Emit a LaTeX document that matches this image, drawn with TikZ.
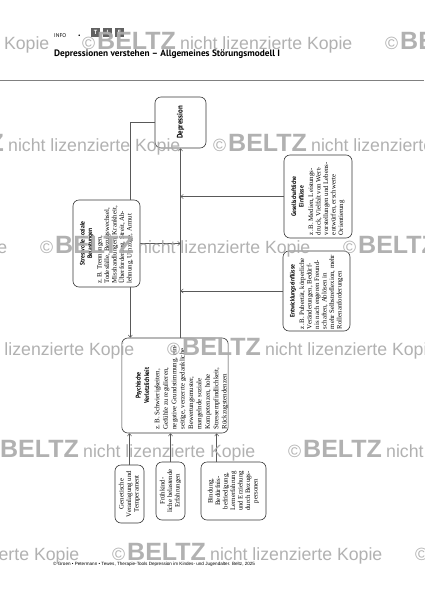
\documentclass[tikz,border=0pt]{standalone}
\usepackage{fontspec}
\setmainfont{Liberation Serif}
\newfontfamily\hdfont{PT Sans}
\newfontfamily\wmfont{Liberation Sans}
\newfontfamily\ttlfont{PT Sans}[FakeStretch=0.86]
\usetikzlibrary{arrows.meta}
\newcommand\bodyf{\normalfont\fontsize{6.8}{7.5}\selectfont}
\newcommand\ttlf{\ttlfont\bfseries\fontsize{6.5}{7.6}\selectfont}
\newcommand\rtext[2]{\rotatebox{90}{\begin{minipage}{#1}#2\end{minipage}}}
\newcommand\wmrow[2]{%
  \foreach \k in {-1,0,1}{%
    \node[wmtext,anchor=base west] at ({#1+303*\k},#2) {©};
    \node[wmlogo,anchor=base west] at ({#1+303*\k+15},#2) {BELTZ};
    \node[wmtext,anchor=base west] at ({#1+303*\k+98},#2) {nicht lizenzierte Kopie};
  }}
\begin{document}
\begin{tikzpicture}[x=1pt,y=-1pt,
  box/.style={draw=black!78,line width=0.6pt,rounded corners=6pt,inner sep=0pt,fill=white},
  arr/.style={draw=black!65,line width=0.5pt,-{Straight Barb[length=2.4pt,width=4.2pt]}},
  plain/.style={draw=black!65,line width=0.5pt},
  wmtext/.style={text=black!33,font=\wmfont\fontsize{17.7}{18}\selectfont,inner sep=0pt,opacity=0.92},
  wmlogo/.style={text=black!33,font=\wmfont\bfseries\fontsize{25}{25}\selectfont,inner sep=0pt,opacity=0.92},
  tie/.style={fill=black!62,text=white,minimum size=9pt,inner sep=0pt,font=\hdfont\bfseries\fontsize{6}{6}\selectfont},
  hd/.style={inner sep=0pt,anchor=base west}]
\fill[white] (0,0) rectangle (424,600);
\useasboundingbox (0,0) rectangle (424,600);

% header
\node[hd,font=\hdfont\fontsize{5.5}{6}\selectfont] (info) at (54,37) {INFO};
\node[hd,font=\hdfont\fontsize{5.5}{6}\selectfont] (dot) at (78,37) {•};
\node[tie] (tT) at (95.5,32.5) {T};
\node[tie] (tI) at (107.5,32.5) {I};
\node[tie] (tE) at (119.5,32.5) {E};
\node[hd,font=\hdfont\bfseries\fontsize{9.3}{10}\selectfont] (title) at (54,56.5) {Depressionen verstehen – Allgemeines Störungsmodell I};
\draw[black!50,line width=0.8pt] (0,80) -- (424,80);

% boxes
\node[box,minimum width=51pt,minimum height=51pt] (dep) at (180.5,122.5)
  {\rotatebox{90}{\ttlfont\bfseries\fontsize{8}{9}\selectfont Depression}};
\node[box,minimum width=67pt,minimum height=87pt] (stress) at (106.5,243.5)
  {\rtext{80pt}{\centering\ttlf Stressvolle soziale\\Belastungen\par\vspace{2pt}\raggedright\bodyf
   z.\,B. Trennungen,\\Todesfälle, Bezugswechsel,\\Misshandlungen, Krankheit,\\Überforderung, Streit, Ab-\\lehnung, Umzüge, Armut\par}};
\node[box,minimum width=68pt,minimum height=83pt] (ges) at (318,196.5)
  {\rtext{77pt}{\centering\ttlf Gesellschaftliche\\Einflüsse\par\vspace{2pt}\raggedright\bodyf
   z.\,B. Medien, Leistungs-\\druck, Vielfalt von Wert-\\vorstellungen und Lebens-\\entwürfen, erschwerte\\Orientierung\par}};
\node[box,minimum width=67pt,minimum height=80pt] (ent) at (316.5,291)
  {\rtext{76pt}{\centering\ttlf Entwicklungseinflüsse\par\vspace{2pt}\raggedright\bodyf
   z.\,B. Pubertät, körperliche\\Veränderungen, Bedürf-\\nis nach engeren Freund-\\schaften, Ablösen in\\mehr Selbstreflexion, mehr\\Rollenanforderungen\par}};
\node[box,minimum width=106pt,minimum height=95pt] (psy) at (175,385.5)
  {\hspace*{14pt}\rtext{88pt}{\centering\ttlfont\bfseries\fontsize{6.8}{8.4}\selectfont Psychische\\Verletzlichkeit\par\vspace{2pt}\raggedright\normalfont\fontsize{6.9}{8.4}\selectfont
   z.\,B. Schwierigkeiten,\\Gefühle zu regulieren,\\negative Grundstimmung, ein-\\seitige, verzerrte gedankliche\\Bewertungsmuster,\\mangelnde soziale\\Kompetenzen, hohe\\Stressempfindlichkeit,\\Rückzugstendenzen\par}};
\node[box,minimum width=29pt,minimum height=58pt] (b1) at (129.5,494)
  {\rtext{54pt}{\centering\bodyf Genetische\\Veranlagung und\\Temperament\par}};
\node[box,minimum width=29pt,minimum height=58pt] (b2) at (170.5,491)
  {\rtext{54pt}{\centering\bodyf Frühkind-\\liche belastende\\Erfahrungen\par}};
\node[box,minimum width=65pt,minimum height=58pt] (b3) at (233.5,491)
  {\rtext{54pt}{\centering\bodyf Bindung,\\Bedürfnis-\\befriedigung,\\Lernerfahrung\\und Erziehung\\durch Bezugs-\\personen\par}};

% connectors
\coordinate (st1) at ([xshift=-10pt]stress.north east);
\coordinate (st2) at ([xshift=-10pt]stress.south east);
\coordinate (b3t) at ([xshift=16pt]b3.north west);
\draw[arr] (dep.south |- psy.north) -- (dep.south);
\draw[plain] (st1) |- (dep.west);
\draw[arr] (st2) -- (st2 |- psy.north);
\draw[arr] (stress.east) -- (stress.east -| dep.south);
\draw[arr] (ges.west) -- (ges.west -| dep.south);
\draw[arr] (ent.west) -- (ent.west -| dep.south);
\draw[arr] (b1.north) -- (b1.north |- psy.south);
\draw[arr] (b2.north) -- (b2.north |- psy.south);
\draw[arr] (b3t) -- (b3t |- psy.south);

% footer
\node[hd,font=\wmfont\fontsize{4.6}{5}\selectfont] (foot) at (53,565)
  {© Groen • Petermann • Tewes, Therapie-Tools Depression im Kindes- und Jugendalter. Beltz, 2025};

% watermarks
\begin{scope}
\clip (0,0) rectangle (424,600);
\wmrow{82}{49}
\wmrow{213}{151}
\wmrow{40}{253}
\wmrow{167}{355}
\wmrow{288}{457}
\wmrow{112}{560}
\end{scope}
\end{tikzpicture}
\end{document}
